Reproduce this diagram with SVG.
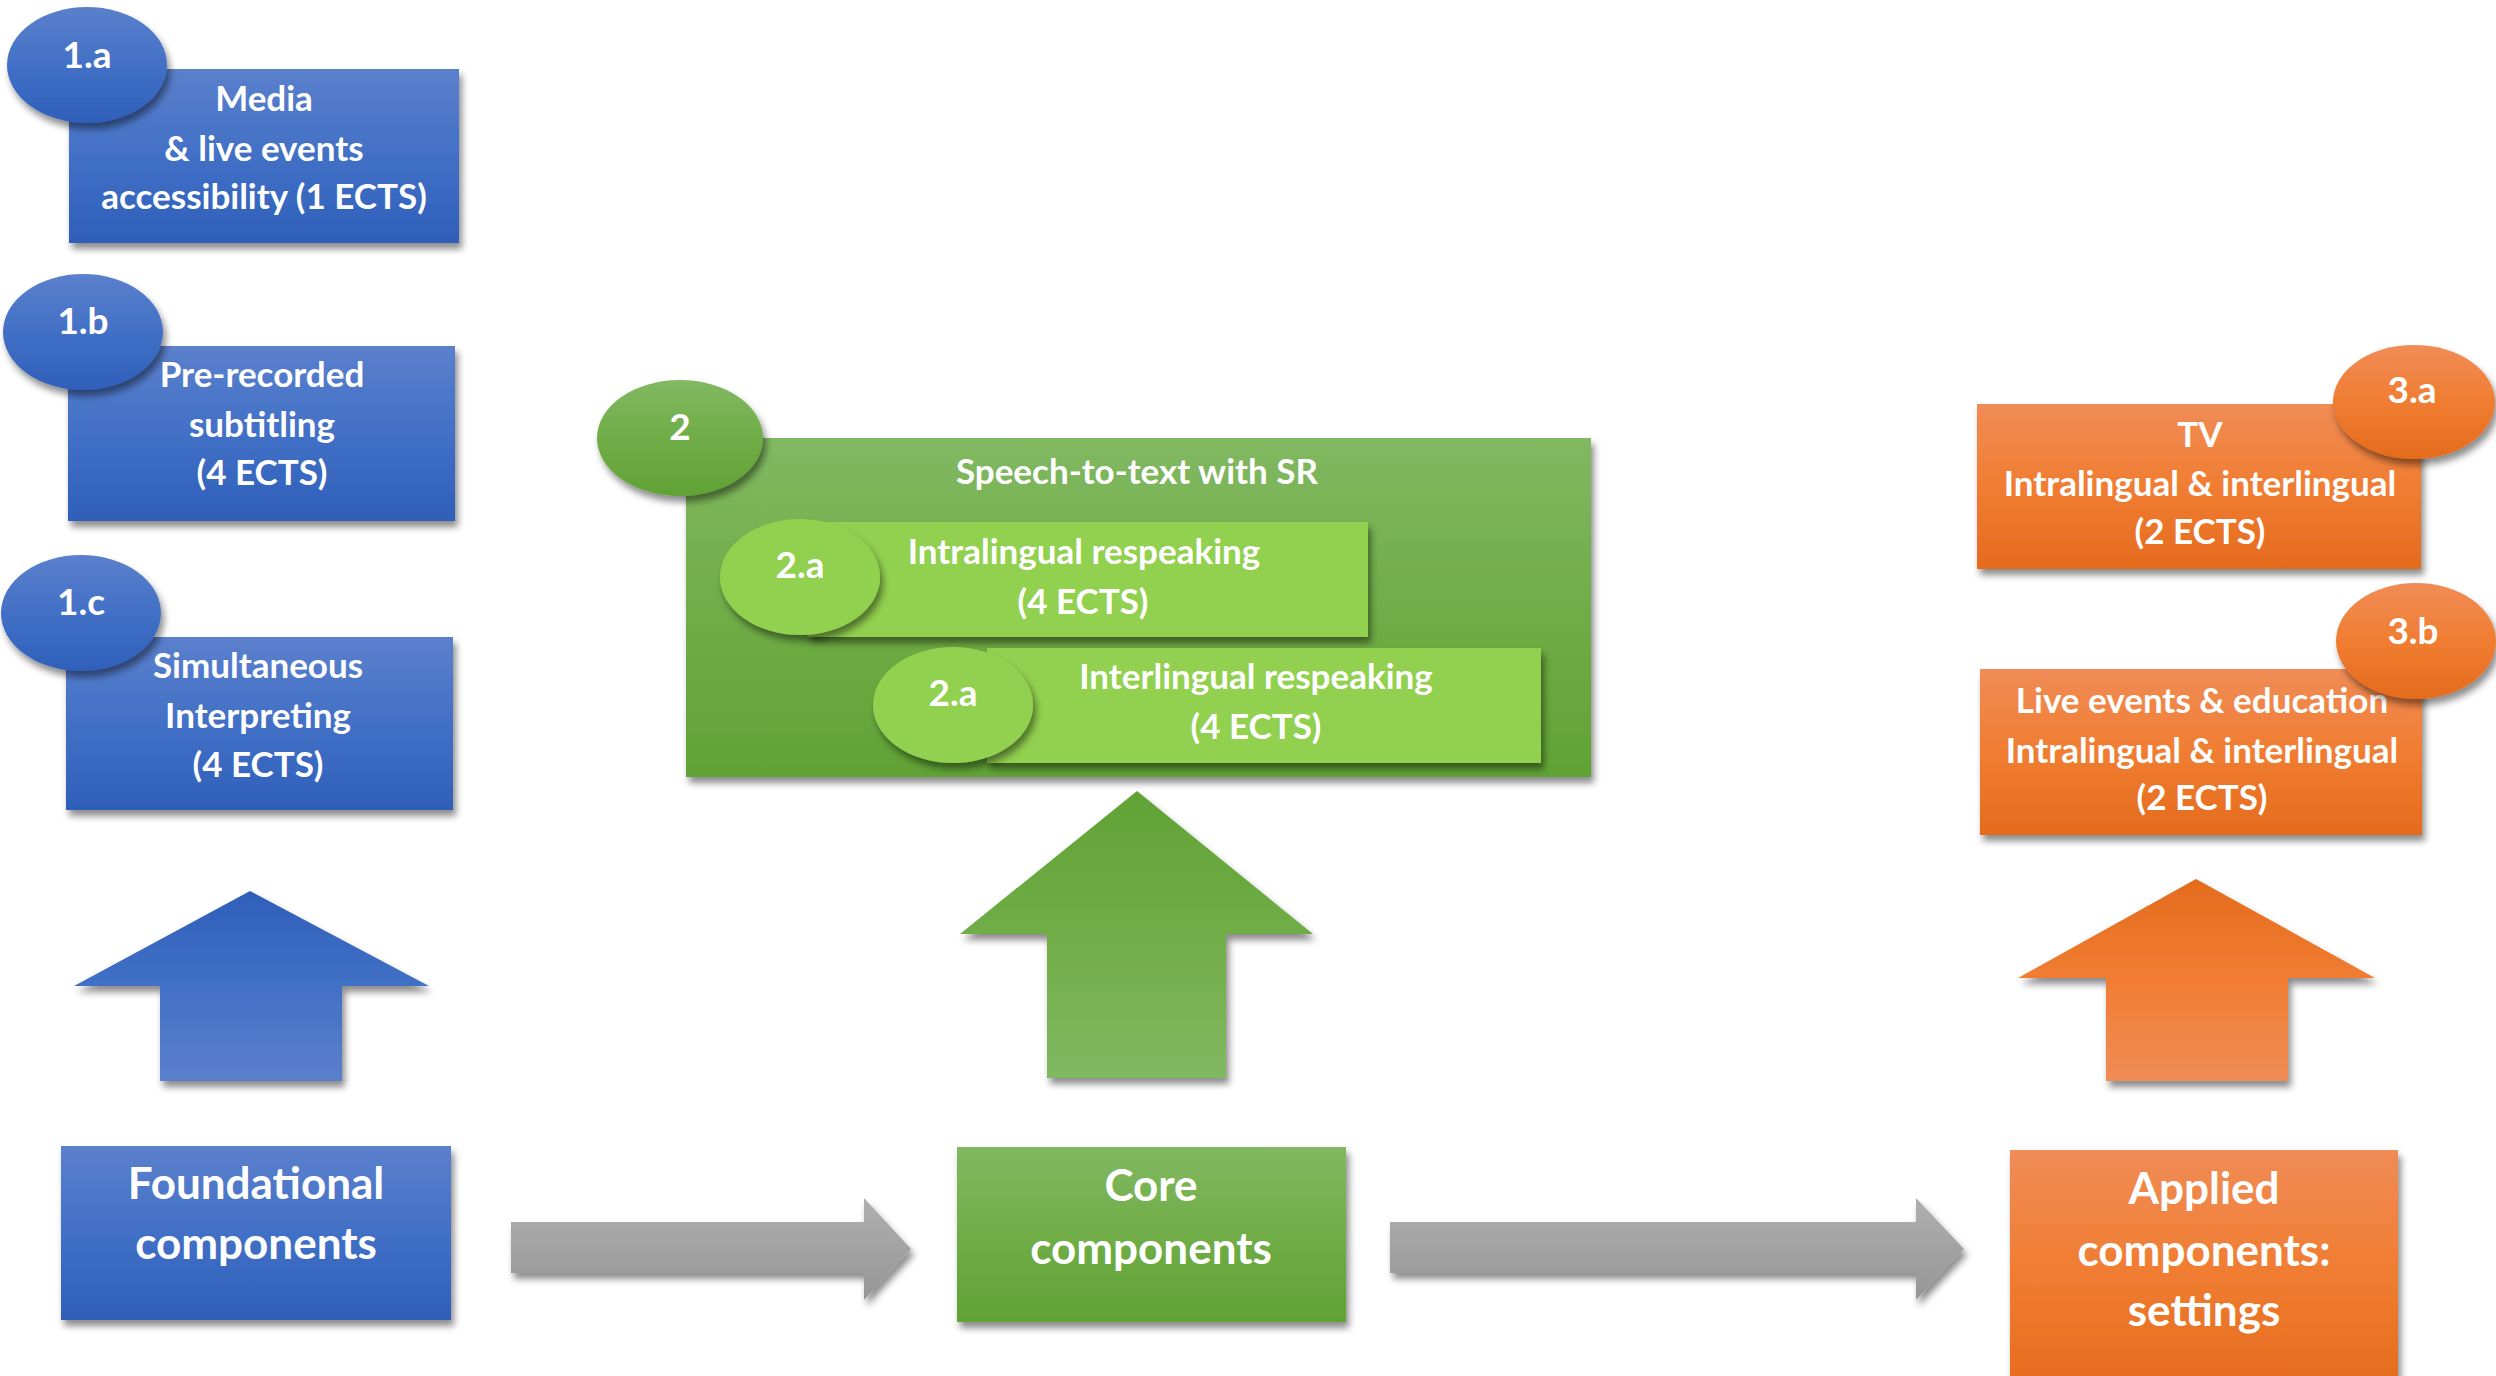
<svg xmlns="http://www.w3.org/2000/svg" width="2496" height="1376" viewBox="0 0 2496 1376">
<defs>
<linearGradient id="gBlue" x1="0" y1="0" x2="0" y2="1"><stop offset="0" stop-color="#5b80cc"/><stop offset="0.5" stop-color="#4270c6"/><stop offset="1" stop-color="#2e5fb9"/></linearGradient>
<linearGradient id="gBlueUp" x1="0" y1="1" x2="0" y2="0"><stop offset="0" stop-color="#5b80cc"/><stop offset="0.5" stop-color="#4270c6"/><stop offset="1" stop-color="#2e5fb9"/></linearGradient>
<linearGradient id="gGreen" x1="0" y1="0" x2="0" y2="1"><stop offset="0" stop-color="#81b862"/><stop offset="0.5" stop-color="#70ad47"/><stop offset="1" stop-color="#61a235"/></linearGradient>
<linearGradient id="gGreenUp" x1="0" y1="1" x2="0" y2="0"><stop offset="0" stop-color="#81b862"/><stop offset="0.5" stop-color="#70ad47"/><stop offset="1" stop-color="#61a235"/></linearGradient>
<linearGradient id="gOrange" x1="0" y1="0" x2="0" y2="1"><stop offset="0" stop-color="#f08c56"/><stop offset="0.5" stop-color="#f07d32"/><stop offset="1" stop-color="#e46b1d"/></linearGradient>
<linearGradient id="gOrangeUp" x1="0" y1="1" x2="0" y2="0"><stop offset="0" stop-color="#f08c56"/><stop offset="0.5" stop-color="#f07d32"/><stop offset="1" stop-color="#e46b1d"/></linearGradient>
<linearGradient id="gGray" x1="0" y1="0" x2="0" y2="1"><stop offset="0" stop-color="#afafaf"/><stop offset="1" stop-color="#969696"/></linearGradient>
<filter id="sh" x="-10%" y="-10%" width="125%" height="130%"><feDropShadow dx="3" dy="6" stdDeviation="3.5" flood-color="#000" flood-opacity="0.45"/></filter>
</defs>
<style>
text{font-family:Lato,"Liberation Sans",sans-serif;font-weight:bold;fill:#fff;text-anchor:middle}
.t{font-size:35px}
.b{font-size:44px}
.n{font-size:37px}
.blue{fill:url(#gBlue);filter:url(#sh)}
.green{fill:url(#gGreen);filter:url(#sh)}
.lg{fill:#92d050;filter:url(#sh)}
.orange{fill:url(#gOrange);filter:url(#sh)}
</style>
<rect width="2496" height="1376" fill="#ffffff"/>

<g id="connectors">
<polygon points="250,891 429,986 342,986 342,1081 160,1081 160,986 74,986" fill="url(#gBlueUp)" filter="url(#sh)"/>
<polygon points="1137,791 1313,934 1226,934 1226,1078 1047,1078 1047,934 960,934" fill="url(#gGreenUp)" filter="url(#sh)"/>
<polygon points="2196,879 2375,978 2288,978 2288,1081 2106,1081 2106,978 2018,978" fill="url(#gOrangeUp)" filter="url(#sh)"/>
<polygon points="511,1222 864,1222 864,1198 911,1249 864,1300 864,1273 511,1273" fill="url(#gGray)" filter="url(#sh)"/>
<polygon points="1390,1222 1916,1222 1916,1198 1964,1249 1916,1300 1916,1273 1390,1273" fill="url(#gGray)" filter="url(#sh)"/>
</g>

<g id="node-1a">
<rect class="blue" x="69" y="69" width="390" height="174"/>
<ellipse class="blue" cx="87" cy="65" rx="80" ry="58"/>
<text class="n" x="87" y="68">1.a</text>
<text class="t" x="264" y="111">Media</text>
<text class="t" x="264" y="161">&amp; live events</text>
<text class="t" x="264" y="209">accessibility (1 ECTS)</text>
</g>

<g id="node-1b">
<rect class="blue" x="68" y="346" width="387" height="175"/>
<ellipse class="blue" cx="83" cy="332" rx="80" ry="58"/>
<text class="n" x="83" y="334">1.b</text>
<text class="t" x="262" y="387">Pre-recorded</text>
<text class="t" x="262" y="437">subtitling</text>
<text class="t" x="262" y="485">(4 ECTS)</text>
</g>

<g id="node-1c">
<rect class="blue" x="66" y="637" width="387" height="173"/>
<ellipse class="blue" cx="81" cy="613" rx="80" ry="58"/>
<text class="n" x="81" y="615">1.c</text>
<text class="t" x="258" y="678">Simultaneous</text>
<text class="t" x="258" y="728">Interpreting</text>
<text class="t" x="258" y="777">(4 ECTS)</text>
</g>

<g id="node-2">
<rect class="green" x="686" y="438" width="905" height="339"/>
<ellipse class="green" cx="680" cy="438" rx="83" ry="58"/>
<text class="n" x="680" y="440">2</text>
<text class="t" x="1137" y="484">Speech-to-text with SR</text>
</g>

<g id="node-2a-intra">
<rect class="lg" x="807" y="522" width="561" height="115"/>
<ellipse class="lg" cx="800" cy="577" rx="80" ry="58"/>
<text class="n" x="800" y="578">2.a</text>
<text class="t" x="1084" y="564">Intralingual respeaking</text>
<text class="t" x="1083" y="614">(4 ECTS)</text>
</g>

<g id="node-2a-inter">
<rect class="lg" x="987" y="648" width="554" height="115"/>
<ellipse class="lg" cx="953" cy="705" rx="80" ry="58"/>
<text class="n" x="953" y="706">2.a</text>
<text class="t" x="1256" y="689">Interlingual respeaking</text>
<text class="t" x="1256" y="739">(4 ECTS)</text>
</g>

<g id="node-3a">
<rect class="orange" x="1977" y="404" width="444" height="165"/>
<text class="t" x="2200" y="447">TV</text>
<text class="t" x="2200" y="496">Intralingual &amp; interlingual</text>
<text class="t" x="2200" y="544">(2 ECTS)</text>
<ellipse class="orange" cx="2414" cy="402" rx="81" ry="57"/>
<text class="n" x="2412" y="403">3.a</text>
</g>

<g id="node-3b">
<rect class="orange" x="1980" y="669" width="442" height="166"/>
<text class="t" x="2202" y="713">Live events &amp; education</text>
<text class="t" x="2202" y="763">Intralingual &amp; interlingual</text>
<text class="t" x="2202" y="810">(2 ECTS)</text>
<ellipse class="orange" cx="2416" cy="641" rx="80" ry="58"/>
<text class="n" x="2413" y="644">3.b</text>
</g>

<g id="node-foundational">
<rect class="blue" x="61" y="1146" width="390" height="174"/>
<text class="b" x="256" y="1199">Foundational</text>
<text class="b" x="256" y="1259">components</text>
</g>

<g id="node-core">
<rect class="green" x="957" y="1147" width="389" height="175"/>
<text class="b" x="1151" y="1201">Core</text>
<text class="b" x="1151" y="1264">components</text>
</g>

<g id="node-applied">
<rect class="orange" x="2010" y="1150" width="388" height="240"/>
<text class="b" x="2204" y="1204">Applied</text>
<text class="b" x="2204" y="1266">components:</text>
<text class="b" x="2204" y="1326">settings</text>
</g>
</svg>
